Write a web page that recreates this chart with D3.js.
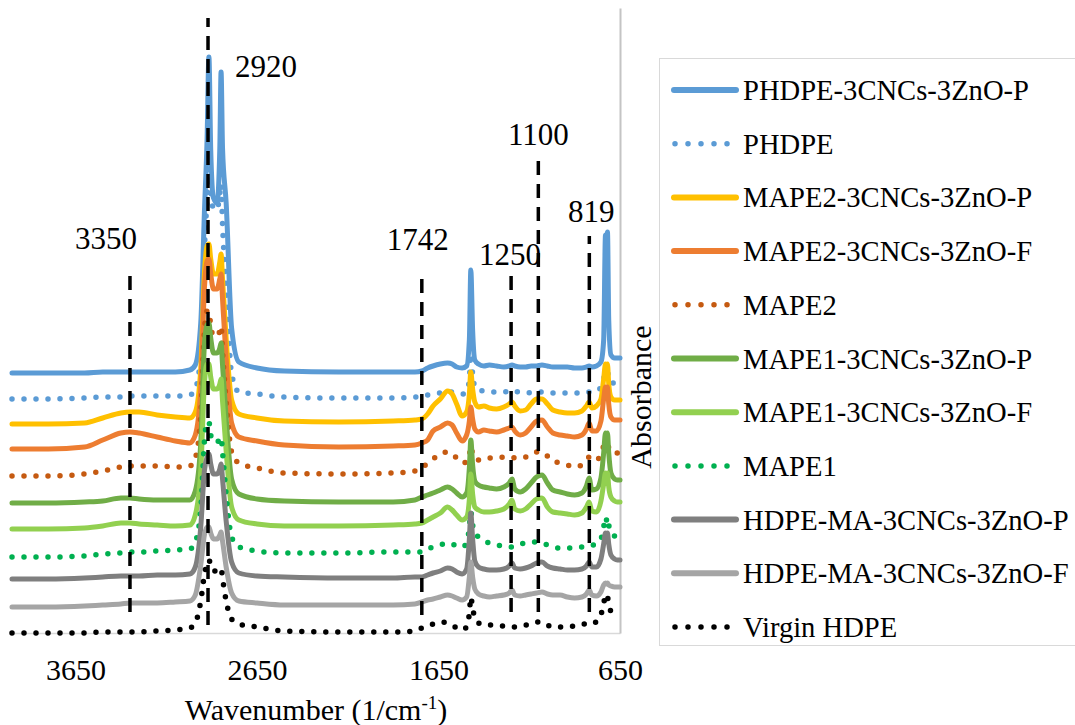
<!DOCTYPE html>
<html>
<head>
<meta charset="utf-8">
<script src="https://cdn.jsdelivr.net/npm/d3@7"></script>
<style>
  html, body { margin: 0; padding: 0; background: #fff; }
  svg text { font-family: "Liberation Serif", "Times New Roman", serif; fill: #000; }
</style>
</head>
<body>
<svg id="chart" width="1075" height="725"></svg>
<script>
// FTIR absorbance spectra (arbitrary units), stacked with a vertical offset per sample.
const wavenumbers = [
  4000, 3800, 3600, 3500, 3400, 3350, 3300, 3200, 3100, 3020,
  2990, 2960, 2940, 2925, 2915, 2905, 2890, 2870, 2855, 2848,
  2840, 2820, 2790, 2750, 2650, 2500, 2200, 1900, 1780, 1742,
  1710, 1680, 1640, 1600, 1575, 1550, 1520, 1495, 1480, 1472,
  1462, 1450, 1430, 1400, 1370, 1330, 1290, 1260, 1245, 1230,
  1200, 1170, 1140, 1110, 1080, 1050, 1020, 980, 940, 900,
  860, 835, 820, 805, 780, 755, 740, 730, 725, 719,
  712, 700, 680, 665, 650
];

const seriesNames = [
  "PHDPE-3CNCs-3ZnO-P", "PHDPE", "MAPE2-3CNCs-3ZnO-P", "MAPE2-3CNCs-3ZnO-F", "MAPE2",
  "MAPE1-3CNCs-3ZnO-P", "MAPE1-3CNCs-3ZnO-F", "MAPE1", "HDPE-MA-3CNCs-3ZnO-P",
  "HDPE-MA-3CNCs-3ZnO-F", "Virgin HDPE"
];
const seriesColors = [
  "#5B9BD5", "#5B9BD5", "#FFC000", "#ED7D31", "#C55A11",
  "#70AD47", "#92D050", "#00B050", "#7F7F7F", "#A5A5A5", "#000000"
];
const seriesDotted = [false, true, false, false, true, false, false, true, false, false, true];

// vertical stacking offset of each spectrum (a.u.)
const stackOffsets = [260, 234, 209, 184, 157, 130, 104, 76, 54, 26, 0];

const absPHDPE_P = [
  0, 0, 0, 1, 1, 1, 1, 1, 1, 3,
  8, 50, 160, 235, 316, 223, 175, 170, 225, 301,
  225, 170, 45, 11, 5, 2, 1, 1, 1, 2,
  5, 7, 9, 10, 9, 6, 5, 7, 33, 103,
  43, 13, 9, 7, 8, 7, 6, 7, 8, 7,
  6, 6, 7, 7, 8, 7, 6, 6, 6, 5,
  5, 6, 7, 6, 7, 11, 33, 138, 113, 141,
  53, 18, 15, 15, 15
];
const absPHDPE = [
  0, 0, 1, 2, 2, 3, 3, 3, 3, 4,
  10, 45, 150, 200, 230, 210, 190, 190, 205, 215,
  175, 110, 25, 7, 5, 2, 1, 1, 2, 3,
  4, 5, 6, 7, 7, 6, 5, 7, 20, 45,
  25, 12, 9, 8, 7, 7, 7, 8, 9, 8,
  7, 7, 6, 7, 7, 6, 6, 6, 6, 6,
  6, 7, 7, 7, 8, 12, 20, 27, 25, 27,
  20, 16, 16, 16, 16
];
const absMAPE2_P = [
  0, 0, 1, 6, 11, 12, 12, 9, 7, 6,
  12, 55, 150, 178, 180, 165, 150, 150, 162, 170,
  145, 85, 24, 10, 6, 3, 2, 3, 4, 5,
  10, 18, 25, 33, 30, 20, 8, 12, 30, 52,
  35, 22, 17, 18, 16, 15, 17, 20, 22, 18,
  13, 14, 20, 25, 25, 20, 14, 12, 11, 11,
  13, 18, 22, 16, 18, 25, 45, 60, 55, 60,
  40, 27, 24, 24, 24
];
const absMAPE2_F = [
  0, 0, 2, 9, 16, 17, 16, 12, 8, 6,
  14, 60, 160, 188, 190, 175, 160, 160, 170, 175,
  150, 90, 26, 12, 8, 4, 2, 3, 4, 6,
  9, 18, 22, 26, 24, 16, 8, 14, 28, 42,
  30, 20, 17, 19, 18, 17, 19, 21, 22, 18,
  14, 16, 22, 28, 29, 22, 16, 14, 13, 12,
  14, 20, 26, 18, 18, 28, 50, 62, 58, 62,
  45, 32, 29, 29, 29
];
const absMAPE2 = [
  0, 0, 2, 5, 9, 10, 10, 10, 9, 10,
  18, 62, 145, 165, 165, 150, 140, 140, 145, 150,
  125, 75, 24, 13, 8, 3, 2, 3, 5, 8,
  13, 17, 22, 24, 22, 18, 13, 14, 20, 30,
  22, 17, 16, 18, 18, 18, 19, 19, 19, 18,
  18, 19, 22, 24, 24, 20, 15, 13, 11, 9,
  11, 16, 19, 16, 16, 22, 30, 33, 32, 33,
  28, 24, 23, 23, 23
];
const absMAPE1_P = [
  0, 0, 1, 2, 5, 5, 4, 3, 3, 3,
  12, 60, 158, 178, 180, 165, 150, 150, 155, 160,
  138, 85, 24, 9, 4, 2, 1, 1, 3, 6,
  8, 10, 13, 16, 14, 10, 6, 10, 35, 63,
  38, 22, 18, 16, 15, 14, 16, 20, 24, 14,
  11, 14, 20, 26, 28, 20, 13, 11, 9, 8,
  10, 17, 25, 13, 14, 25, 50, 70, 65, 70,
  50, 30, 24, 23, 23
];
const absMAPE1_F = [
  0, 0, 1, 3, 6, 6, 5, 4, 3, 4,
  14, 58, 145, 165, 165, 152, 140, 140, 145, 150,
  128, 78, 22, 9, 5, 3, 3, 4, 5, 6,
  9, 12, 16, 22, 19, 14, 9, 12, 30, 55,
  35, 22, 19, 17, 17, 18, 20, 25, 29, 20,
  18, 20, 25, 30, 31, 22, 17, 16, 15, 14,
  16, 22, 27, 18, 17, 28, 45, 56, 52, 56,
  42, 32, 28, 27, 27
];
const absMAPE1 = [
  0, 0, 1, 3, 4, 5, 5, 6, 7, 8,
  15, 48, 115, 135, 135, 122, 115, 115, 118, 120,
  105, 62, 20, 10, 6, 4, 4, 5, 5, 5,
  8, 10, 12, 14, 13, 11, 10, 14, 30, 45,
  32, 24, 20, 16, 14, 12, 11, 10, 10, 11,
  13, 14, 15, 15, 14, 12, 10, 9, 9, 9,
  10, 11, 12, 12, 13, 18, 30, 40, 37, 40,
  32, 24, 21, 20, 20
];
const absHDPEMA_P = [
  0, 0, 1, 2, 3, 3, 3, 4, 4, 5,
  12, 52, 108, 122, 125, 115, 105, 105, 110, 115,
  100, 58, 17, 6, 3, 2, 1, 1, 2, 2,
  4, 6, 8, 11, 10, 7, 5, 10, 40, 66,
  40, 18, 12, 10, 9, 9, 10, 13, 16, 11,
  10, 11, 13, 16, 17, 13, 11, 10, 9, 9,
  10, 13, 17, 12, 12, 20, 35, 46, 43, 46,
  35, 24, 20, 19, 19
];
const absHDPEMA_F = [
  0, 0, 1, 2, 3, 4, 4, 4, 5, 6,
  12, 42, 72, 80, 80, 74, 68, 68, 72, 75,
  66, 40, 14, 6, 4, 2, 2, 2, 3, 5,
  7, 8, 10, 12, 11, 9, 7, 10, 30, 45,
  30, 18, 13, 11, 10, 11, 12, 14, 17, 12,
  11, 12, 13, 14, 15, 13, 12, 12, 10, 9,
  10, 13, 17, 12, 11, 15, 22, 24, 23, 24,
  22, 21, 20, 20, 20
];
const absVirginHDPE = [
  0, 0, 0, 1, 1, 1, 1, 2, 3, 5,
  10, 32, 58, 70, 73, 68, 62, 62, 64, 65,
  55, 32, 14, 9, 6, 2, 1, 1, 2, 5,
  7, 9, 11, 10, 8, 5, 3, 6, 20, 36,
  25, 15, 10, 8, 8, 7, 7, 6, 6, 6,
  7, 8, 9, 11, 11, 8, 6, 6, 6, 7,
  8, 10, 11, 10, 11, 18, 30, 36, 33, 36,
  28, 22, 21, 20, 20
];

const seriesValues = [
  absPHDPE_P, absPHDPE, absMAPE2_P, absMAPE2_F, absMAPE2,
  absMAPE1_P, absMAPE1_F, absMAPE1, absHDPEMA_P, absHDPEMA_F, absVirginHDPE
];

const xTicks = [3650, 2650, 1650, 650];

// marked band positions and the extent of each marker line (a.u.)
const bandWavenumbers = [3350, 2920, 1742, 1250, 1100, 819];
const bandTop = [361, 615, 358, 361, 473, 397];
const bandBottom = [21, 8, 18, 21, 21, 21];

// ---------------------------------------------------------------------------
const svg = d3.select("#chart");
const serif = '"Liberation Serif", "Times New Roman", serif';

const x = d3.scaleLinear().domain([4000, 650]).range([12, 620]);
const y = d3.scaleLinear().domain([0, 625]).range([633, 8]);

// horizontal axis
svg.append("g")
  .attr("transform", `translate(0,${y(0)})`)
  .call(d3.axisBottom(x).tickValues(xTicks).tickSize(0).tickSizeOuter(0)
    .tickPadding(26).tickFormat(d3.format("d")))
  .call(g => g.select(".domain").attr("stroke", "#D9D9D9").attr("stroke-width", 1.5))
  .call(g => g.selectAll("text").attr("font-size", 30).attr("font-family", serif).attr("fill", "#000"));

// vertical axis line on the right side (no tick labels)
svg.append("g")
  .attr("transform", `translate(${x(650)},0)`)
  .call(d3.axisLeft(y).tickValues([]).tickSizeOuter(0))
  .call(g => g.select(".domain").attr("stroke", "#C4C4C4").attr("stroke-width", 2));

// spectra
const line = d3.line()
  .x((d, i) => x(wavenumbers[i]))
  .curve(d3.curveMonotoneX);

seriesValues.forEach((vals, s) => {
  line.y(d => y(stackOffsets[s] + d));
  const p = svg.append("path")
    .attr("d", line(vals))
    .attr("fill", "none")
    .attr("stroke", seriesColors[s])
    .attr("stroke-linejoin", "round")
    .attr("stroke-linecap", "round");
  if (seriesDotted[s]) {
    p.attr("stroke-width", 5.5).attr("stroke-dasharray", "0 12");
  } else {
    p.attr("stroke-width", 5);
  }
});

// band marker lines with labels
const labelDx = [-24, 58, -4, -1, 0, 2];
const labelDy = [-23, 59, -25, -7, -15, -14];
bandWavenumbers.forEach((wn, i) => {
  svg.append("line")
    .attr("x1", x(wn)).attr("x2", x(wn))
    .attr("y1", y(bandBottom[i])).attr("y2", y(bandTop[i]))
    .attr("stroke", "#000")
    .attr("stroke-width", 3.5)
    .attr("stroke-dasharray", "14 9");
  svg.append("text")
    .attr("x", x(wn) + labelDx[i])
    .attr("y", y(bandTop[i]) + labelDy[i])
    .attr("text-anchor", "middle")
    .attr("font-size", 31)
    .text(wn);
});

// axis titles
const xTitle = svg.append("text")
  .attr("x", (x.range()[0] + x.range()[1]) / 2)
  .attr("y", 720)
  .attr("text-anchor", "middle")
  .attr("font-size", 30);
xTitle.append("tspan").text("Wavenumber (1/cm");
xTitle.append("tspan").attr("font-size", 19).attr("dy", -11).text("-1");
xTitle.append("tspan").attr("dy", 11).text(")");

svg.append("text")
  .attr("transform", "translate(651,397) rotate(-90)")
  .attr("text-anchor", "middle")
  .attr("font-size", 30)
  .text("Absorbance");

// legend
const legend = svg.append("g");
legend.append("rect")
  .attr("x", 659.5).attr("y", 58.5)
  .attr("width", 430).attr("height", 587)
  .attr("fill", "#fff")
  .attr("stroke", "#D9D9D9")
  .attr("stroke-width", 1);

seriesNames.forEach((name, i) => {
  const cy = 90 + i * 53.7;
  const sample = legend.append("line")
    .attr("y1", cy).attr("y2", cy)
    .attr("stroke", seriesColors[i])
    .attr("stroke-linecap", "round");
  if (seriesDotted[i]) {
    sample.attr("x1", 675).attr("x2", 728)
      .attr("stroke-width", 5.5).attr("stroke-dasharray", "0 13");
  } else {
    sample.attr("x1", 674).attr("x2", 736).attr("stroke-width", 6);
  }
  legend.append("text")
    .attr("x", 743)
    .attr("y", cy + 10)
    .attr("font-size", 28.6)
    .text(name);
});
</script>
</body>
</html>
